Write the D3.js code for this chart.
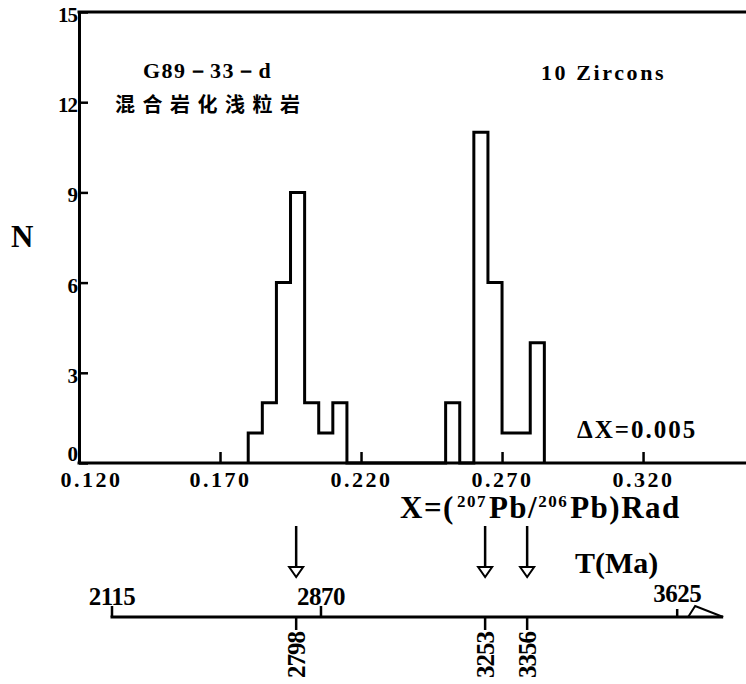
<!DOCTYPE html>
<html>
  <head>
    <meta charset="utf-8">
    <title></title>
  </head>
  <style>
    body { margin: 0; background: #fff; }
    svg text { font-family: "Liberation Serif", serif; font-weight: bold; fill: #000; }
  </style>
  <script src="https://d3js.org/d3.v7.min.js"></script>
  <body>
    <script>
    // histogram, dX = 0.005, bins start at 0.180
    const binStart0 = 0.180
    const binWidth = 0.005
    const counts = [1, 2, 6, 9, 2, 1, 2, 0, 0, 0, 0, 0, 0, 0, 2, 0, 11, 6, 1, 1, 4]

    const xTicks = [0.120, 0.170, 0.220, 0.270, 0.320]
    const yTicks = [0, 3, 6, 9, 12, 15]

    // T(Ma) scale, ages placed at their Pb/Pb ratio
    const axisAges = [2115, 2870, 3625]
    const axisRatios = [0.1317, 0.2058, 0.3321]
    const peakAges = [2798, 3253, 3356]
    const peakRatios = [0.1970, 0.2640, 0.2789]
    const timeAxisEnd = 0.3484

    const W = 746, H = 684
    const svg = d3.select("body").append("svg")
                  .attr("width", W).attr("height", H)

    const x = d3.scaleLinear().domain([0.120, 0.3565]).range([79, 746])
    const y = d3.scaleLinear().domain([0, 15]).range([463, 12])

    function heavy(g) {
      g.selectAll("path, line").attr("stroke", "#000").attr("stroke-width", 3)
    }

    // top border
    svg.append("line")
       .attr("x1", x(0.120) - 1.5).attr("x2", W)
       .attr("y1", y(15)).attr("y2", y(15))
       .attr("stroke", "#000").attr("stroke-width", 3)

    // y axis
    svg.append("g")
       .attr("transform", "translate(" + x(0.120) + ",0)")
       .call(d3.axisLeft(y).tickValues(yTicks).tickSizeInner(-9).tickSizeOuter(0).tickPadding(2))
       .call(heavy)
       .call(g => g.selectAll(".tick line").attr("stroke-width", 2.5))
       .call(g => g.selectAll("text").attr("font-size", 21).attr("dy", d => d == 0 ? "-0.1em" : "0.45em").attr("letter-spacing", -1))

    // x axis
    svg.append("g")
       .attr("transform", "translate(0," + y(0) + ")")
       .call(d3.axisBottom(x).tickValues(xTicks).tickFormat(d3.format(".3f"))
               .tickSizeInner(-11).tickSizeOuter(0).tickPadding(8))
       .call(heavy)
       .call(g => g.selectAll(".tick line").attr("stroke-width", 2.5))
       .call(g => g.selectAll("text").attr("font-size", 22).attr("letter-spacing", 2.5))
       .call(g => g.select(".tick text").attr("dx", 12))
       .call(g => g.select(".domain").attr("d", "M" + (x(0.120) - 1.5) + ",0H" + W))

    // histogram outline
    let pts = [[binStart0, 0]]
    counts.forEach((c, i) => pts.push([binStart0 + i * binWidth, c]))
    pts.push([binStart0 + counts.length * binWidth, 0])

    const step = d3.line()
                   .x(d => x(d[0]))
                   .y(d => y(d[1]))
                   .curve(d3.curveStepAfter)

    svg.append("path")
       .attr("d", step(pts))
       .attr("fill", "none")
       .attr("stroke", "#000")
       .attr("stroke-width", 3)
       .attr("stroke-linejoin", "miter")

    // labels inside plot
    svg.append("text").text("G89－33－d")
       .attr("x", 143).attr("y", 78).attr("font-size", 22).attr("letter-spacing", 1.5)
    svg.append("text").text("混合岩化浅粒岩")
       .attr("x", 115).attr("y", 112)
       .style("font-family", '"Noto Sans CJK SC"').attr("font-size", 20).attr("letter-spacing", 7.5)
    svg.append("text").text("10 Zircons")
       .attr("x", 541).attr("y", 80).attr("font-size", 22).attr("letter-spacing", 2.6)
    svg.append("text").text("ΔX=0.005")
       .attr("x", 577).attr("y", 438).attr("font-size", 25).attr("letter-spacing", 2)

    svg.append("text").text("N")
       .attr("x", 11).attr("y", 247).attr("font-size", 31)

    let xl = svg.append("text").attr("x", 400).attr("y", 518).attr("font-size", 31).attr("letter-spacing", 1.5)
    xl.append("tspan").text("X=(")
    xl.append("tspan").text("207").attr("font-size", 17).attr("dy", -11).attr("dx", 2)
    xl.append("tspan").text("Pb/").attr("dy", 11).attr("dx", 2)
    xl.append("tspan").text("206").attr("font-size", 17).attr("dy", -11)
    xl.append("tspan").text("Pb)Rad").attr("dy", 11).attr("dx", 2)

    svg.append("text").text("T(Ma)")
       .attr("x", 575).attr("y", 573).attr("font-size", 30)

    // time axis
    const ty = 617
    svg.append("line")
       .attr("x1", x(axisRatios[0]) - 1.5).attr("x2", x(timeAxisEnd))
       .attr("y1", ty).attr("y2", ty)
       .attr("stroke", "#000").attr("stroke-width", 3)

    const tip = x(timeAxisEnd)
    svg.append("path")
       .attr("d", "M" + (tip - 35) + "," + ty + "L" + (tip - 28) + "," + (ty - 11) + "L" + tip + "," + ty)
       .attr("fill", "none").attr("stroke", "#000").attr("stroke-width", 2)

    const axisT = svg.append("g").selectAll("g")
                     .data(axisAges)
                     .enter().append("g")
                     .attr("transform", (d, i) => "translate(" + x(axisRatios[i]) + "," + ty + ")")
    axisT.append("line")
         .attr("y1", 0).attr("y2", (d, i) => i == 2 ? -8 : -11)
         .attr("stroke", "#000").attr("stroke-width", 2.5)
    axisT.append("text")
         .text(d => d)
         .attr("text-anchor", "middle")
         .attr("y", (d, i) => i == 2 ? -15 : -12)
         .attr("font-size", 25)
         .attr("letter-spacing", -0.5)

    const peaks = svg.append("g").selectAll("g")
                     .data(peakAges)
                     .enter().append("g")
                     .attr("transform", (d, i) => "translate(" + x(peakRatios[i]) + ",0)")
    peaks.append("line")
         .attr("y1", ty).attr("y2", ty + 13)
         .attr("stroke", "#000").attr("stroke-width", 2.5)
    peaks.append("line")
         .attr("y1", 526).attr("y2", 567)
         .attr("stroke", "#000").attr("stroke-width", 2.5)
    peaks.append("path")
         .attr("d", "M-7,567L7,567L0,577Z")
         .attr("fill", "#fff").attr("stroke", "#000").attr("stroke-width", 2)
    peaks.append("text")
         .text(d => d)
         .attr("transform", "translate(0," + (ty + 15) + ") rotate(-90)")
         .attr("text-anchor", "end")
         .attr("dy", "0.36em")
         .attr("font-size", 25)
         .attr("letter-spacing", -1)
    </script>
  </body>
</html>
